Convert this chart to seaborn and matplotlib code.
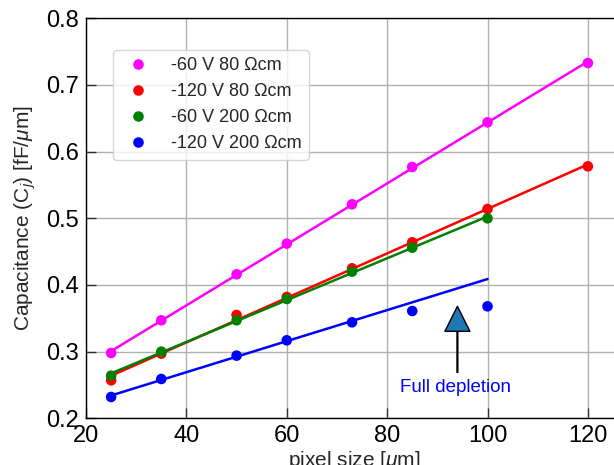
import matplotlib
matplotlib.use("Agg")
import matplotlib.pyplot as plt
import numpy as np
import pandas as pd
import seaborn as sns

FIG_SIZE = (6.14, 4.65)
DPI = 100

# values
PIXEL_SIZE = [25, 35, 50, 60, 73, 85, 100, 120]
CAP_60V_80 = [0.298, 0.347, 0.416, 0.462, 0.521, 0.577, 0.644, 0.733]
CAP_120V_80 = [0.257, 0.297, 0.355, 0.382, 0.425, 0.464, 0.514, 0.578]
CAP_60V_200 = [0.264, 0.300, 0.347, 0.379, 0.420, 0.456, 0.500]
CAP_120V_200 = [0.232, 0.259, 0.294, 0.317, 0.344, 0.361, 0.368]

LABELS = ["-60 V 80 Ωcm", "-120 V 80 Ωcm", "-60 V 200 Ωcm", "-120 V 200 Ωcm"]
COLORS = ["#ff00ff", "#ff0000", "#008000", "#0000ff"]
# number of points used in each linear fit, and x-range of the drawn fit line
FIT_POINTS = [8, 8, 7, 5]
FIT_RANGE = [(25, 120), (25, 120), (25, 100), (25, 100)]

ARROW_TIP = (94, 0.368)
ARROW_TAIL = (94, 0.269)
NOTE_TEXT = "Full depletion"
NOTE_POS = (93.6, 0.259)

sns.set_style("whitegrid")
plt.rcParams.update({
    "font.family": ["Liberation Sans", "DejaVu Sans"],
    "mathtext.fontset": "custom",
    "mathtext.rm": "Liberation Sans",
    "mathtext.it": "Liberation Sans:italic",
    "axes.edgecolor": "black",
    "axes.linewidth": 1.0,
    "grid.color": "#b0b0b0",
    "grid.linewidth": 1.0,
    "xtick.direction": "in",
    "ytick.direction": "in",
    "xtick.bottom": True,
    "ytick.left": True,
    "xtick.color": "#333333",
    "ytick.color": "#333333",
    "xtick.labelcolor": "black",
    "ytick.labelcolor": "black",
})

series = [CAP_60V_80, CAP_120V_80, CAP_60V_200, CAP_120V_200]
frames = []
for label, vals in zip(LABELS, series):
    frames.append(pd.DataFrame({"pixel": PIXEL_SIZE[:len(vals)], "cap": vals, "config": label}))
df = pd.concat(frames, ignore_index=True)

fig = plt.figure(figsize=FIG_SIZE, dpi=DPI)
ax = fig.add_axes([0.1401, 0.1004, 0.8746, 0.8602])

for label, vals, color, n_fit, (x0, x1) in zip(LABELS, series, COLORS, FIT_POINTS, FIT_RANGE):
    slope, icpt = np.polyfit(PIXEL_SIZE[:n_fit], vals[:n_fit], 1)
    xs = np.array([x0, x1])
    sns.lineplot(x=xs, y=slope * xs + icpt, color=color, linewidth=1.8, ax=ax, legend=False)

sns.scatterplot(data=df, x="pixel", y="cap", hue="config", hue_order=LABELS,
                palette=dict(zip(LABELS, COLORS)), s=58, linewidth=0, ax=ax, zorder=3)

ax.annotate("", xy=ARROW_TIP, xytext=ARROW_TAIL,
            arrowprops=dict(facecolor="#1f77b4", edgecolor="black", width=0.6,
                            headwidth=18, headlength=18, shrink=0))
ax.text(*NOTE_POS, NOTE_TEXT, color="#0000ff", fontsize=13.5, ha="center", va="top")

ax.set_xlim(20, 127)
ax.set_ylim(0.2, 0.8)
ax.set_xticks([20, 40, 60, 80, 100, 120])
ax.set_yticks([0.2, 0.3, 0.4, 0.5, 0.6, 0.7, 0.8])
ax.tick_params(labelsize=17, length=7, width=1, pad=5)
ax.set_xlabel(r"pixel size [$\mu$m]", fontsize=15, labelpad=1)
ax.set_ylabel(r"Capacitance (C$_j$) [fF/$\mu$m]", fontsize=15, labelpad=6)

ax.legend(loc="upper left", bbox_to_anchor=(113 / 614, 1 - 50 / 465),
          bbox_transform=fig.transFigure, fontsize=13, frameon=True,
          framealpha=0.8, edgecolor="0.8", fancybox=True, borderaxespad=0)

fig.savefig("out.png", dpi=DPI)
